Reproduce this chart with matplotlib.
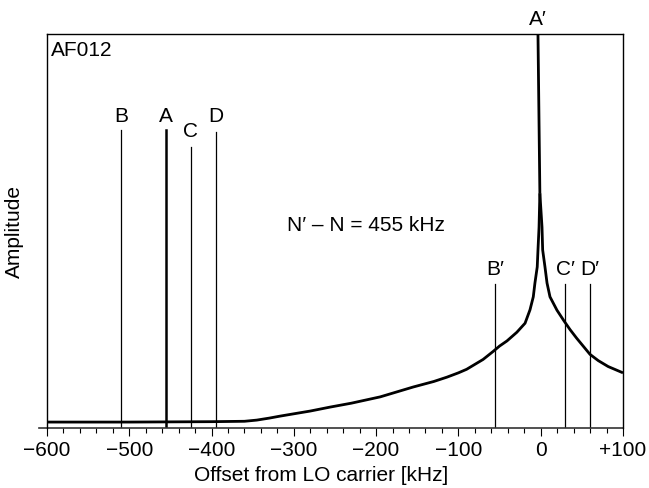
import matplotlib.pyplot as plt
import numpy as np

plt.rcParams['font.family'] = ['Liberation Sans', 'DejaVu Sans']

# spectrum curve (offset kHz, relative amplitude)
left_x = [-600, -500, -400, -360, -345, -330, -317, -300, -280, -256, -230, -195, -155, -130,
          -114, -100, -90, -70, -58, -50, -41, -29, -19, -13, -9, -7, -4.2, -3.3, -2, -1]
left_y = [0.015, 0.015, 0.016, 0.017, 0.020, 0.025, 0.030, 0.036, 0.043, 0.053, 0.063, 0.079, 0.104, 0.118,
          0.129, 0.140, 0.149, 0.174, 0.194, 0.208, 0.221, 0.243, 0.266, 0.300, 0.333, 0.368, 0.409, 0.452, 0.510, 0.596]
right_x = [-1, 1.6, 2.4, 5.2, 7.7, 11.3, 19.8, 28.3, 35.6, 43.7, 59.9, 70, 82, 100]
right_y = [0.596, 0.510, 0.452, 0.409, 0.368, 0.333, 0.299, 0.272, 0.250, 0.228, 0.187, 0.171, 0.156, 0.140]
peak_x = [-1, -3.3]
peak_y = [0.596, 1.0]

# marker lines
lo_names = ['B', 'A', 'C', 'D']
lo_x = [-510, -455, -425, -395]
lo_top = [0.756, 0.756, 0.713, 0.751]
lo_lab = [0.777, 0.777, 0.739, 0.777]
lo_lw = [0.9, 1.8, 0.9, 0.9]

hi_names = ['B\u2032', 'C\u2032', 'D\u2032']
hi_x = [-55, 30, 60]
hi_top = [0.365, 0.365, 0.365]
hi_lab = [0.388, 0.388, 0.388]

ticks = [-600, -500, -400, -300, -200, -100, 0, 100]
tick_labels = ['\u2212600', '\u2212500', '\u2212400', '\u2212300', '\u2212200', '\u2212100', '0', '+100']

fig = plt.figure(figsize=(6.49, 4.88), dpi=100)
ax = fig.add_axes([0.0724, 0.123, 0.8875, 0.807])

fs = 15

for xs, ys in [(left_x, left_y), (right_x, right_y), (peak_x, peak_y)]:
    ax.plot(xs, ys, color='black', lw=2.0, solid_joinstyle='round', solid_capstyle='butt')

for n, x, t, l, w in zip(lo_names, lo_x, lo_top, lo_lab, lo_lw):
    ax.plot([x, x], [0, t], color='black', lw=w)
    ax.text(x, l, n, ha='center', va='baseline', fontsize=fs)

for n, x, t, l in zip(hi_names, hi_x, hi_top, hi_lab):
    ax.plot([x, x], [0, t], color='black', lw=0.9)
    ax.text(x, l, n, ha='center', va='baseline', fontsize=fs)

ax.text(-3.3, 1.023, 'A\u2032', ha='center', va='baseline', fontsize=fs, clip_on=False)
ax.text(-212, 0.515, 'N\u2032 \u2013 N = 455 kHz', ha='center', va='center', fontsize=fs)
ax.text(0.007, 0.982, 'AF012', transform=ax.transAxes, ha='left', va='top', fontsize=fs)

ax.set_xlim(-600, 100)
ax.set_ylim(0, 1)
ax.set_xticks(ticks)
ax.set_xticklabels(tick_labels, fontsize=fs)
ax.set_xticks(np.arange(-600, 101, 20), minor=True)
ax.tick_params(axis='x', which='major', direction='out', length=5.8, width=0.8, pad=3.5)
ax.tick_params(axis='x', which='minor', direction='out', length=3.6, width=0.8)
ax.set_yticks([])

ax.spines['bottom'].set_visible(False)
ax.axhline(0, xmin=-0.014, xmax=1, color='#333333', lw=1.2, clip_on=False)
for s in ['left', 'top', 'right']:
    ax.spines[s].set_linewidth(1.0)

ax.set_xlabel('Offset from LO carrier [kHz]', fontsize=fs)
ax.xaxis.set_label_coords(0.476, -0.097)
ax.set_ylabel('Amplitude', fontsize=fs)
ax.yaxis.set_label_coords(-0.04, 0.5)

fig.savefig('out.png', dpi=100)
